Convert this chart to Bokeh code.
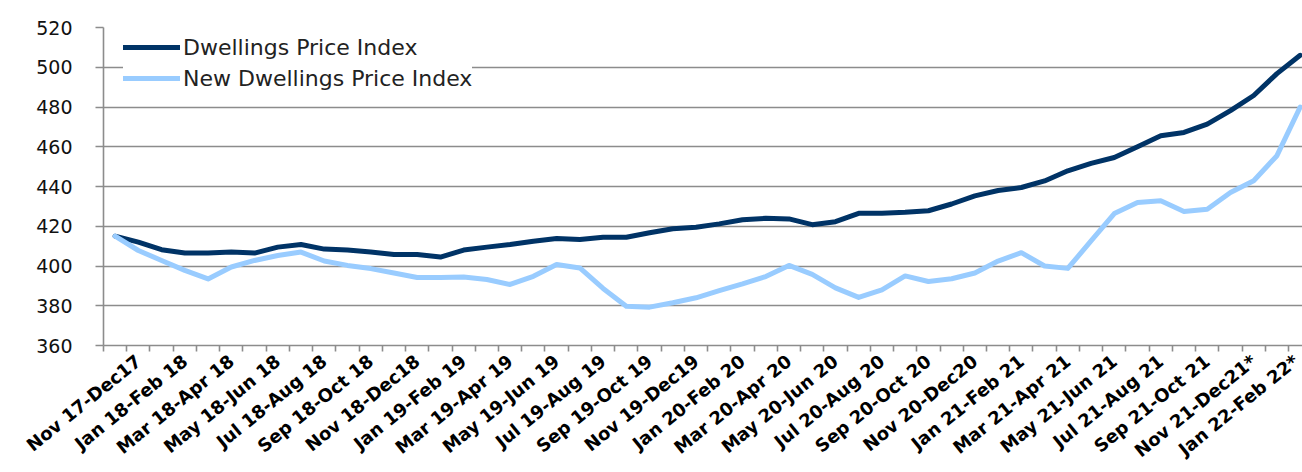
import math
from bokeh.plotting import figure
from bokeh.models import Range1d, FixedTicker, Legend, LegendItem
from bokeh.embed import file_html
from bokeh.resources import INLINE

# Rolling two-month periods, one per category (every other one is labelled)
tick_labels = [
    "Nov 17-Dec17", "Jan 18-Feb 18", "Mar 18-Apr 18", "May 18-Jun 18",
    "Jul 18-Aug 18", "Sep 18-Oct 18", "Nov 18-Dec18", "Jan 19-Feb 19",
    "Mar 19-Apr 19", "May 19-Jun 19", "Jul 19-Aug 19", "Sep 19-Oct 19",
    "Nov 19-Dec19", "Jan 20-Feb 20", "Mar 20-Apr 20", "May 20-Jun 20",
    "Jul 20-Aug 20", "Sep 20-Oct 20", "Nov 20-Dec20", "Jan 21-Feb 21",
    "Mar 21-Apr 21", "May 21-Jun 21", "Jul 21-Aug 21", "Sep 21-Oct 21",
    "Nov 21-Dec21*", "Jan 22-Feb 22*",
]

dwellings = [
    415.0, 412.0, 408.2, 406.5, 406.5, 407.0, 406.5, 409.5, 410.8, 408.5,
    408.0, 407.0, 405.8, 405.8, 404.5, 408.0, 409.5, 410.8, 412.5, 413.8,
    413.3, 414.5, 414.5, 416.7, 418.7, 419.5, 421.2, 423.3, 424.0, 423.7,
    420.8, 422.3, 426.5, 426.5, 427.0, 427.8, 431.2, 435.3, 438.0, 439.5,
    442.8, 447.9, 451.6, 454.6, 460.0, 465.5, 467.2, 471.4, 478.2, 485.8,
    496.8, 506.0,
]

new_dwellings = [
    415.0, 407.8, 402.8, 397.8, 393.5, 399.5, 402.8, 405.3, 407.0, 402.5,
    400.3, 398.7, 396.5, 394.2, 394.2, 394.5, 393.2, 390.7, 394.8, 400.8,
    399.0, 388.7, 379.7, 379.3, 381.5, 384.0, 387.6, 391.0, 394.7, 400.3,
    395.8, 389.0, 384.2, 388.0, 395.0, 392.2, 393.6, 396.5, 402.5, 406.7,
    400.0, 398.8, 412.6, 426.4, 432.0, 432.8, 427.4, 428.6, 437.0, 442.9,
    455.5, 480.0,
]

y_ticks = [360, 380, 400, 420, 440, 460, 480, 500, 520]

x = list(range(len(dwellings)))
label_pos = list(range(1, len(dwellings), 2))
boundaries = [i - 0.5 for i in range(len(dwellings) + 1)]

GRID = "#8c8c8c"
DARK = "#003366"
LIGHT = "#99ccff"

p = figure(width=1302, height=472, output_backend="svg", toolbar_location=None,
           x_range=Range1d(-0.5, 51.1), y_range=Range1d(360, 520),
           min_border_left=103, min_border_right=0, min_border_top=27,
           min_border_bottom=127)
p.outline_line_color = None
p.background_fill_color = "white"

l1 = p.line(x, dwellings, line_color=DARK, line_width=5, line_join="round", line_cap="round")
l2 = p.line(x, new_dwellings, line_color=LIGHT, line_width=5, line_join="round", line_cap="round")

# y axis
p.yaxis.ticker = FixedTicker(ticks=y_ticks)
p.yaxis.axis_line_color = GRID
p.yaxis.axis_line_width = 1.6
p.yaxis.major_tick_line_color = GRID
p.yaxis.major_tick_line_width = 1.6
p.yaxis.major_tick_out = 8
p.yaxis.major_tick_in = 0
p.yaxis.minor_tick_line_color = None
p.yaxis.major_label_standoff = 23
p.yaxis.major_label_text_font = "DejaVu Sans"
p.yaxis.major_label_text_font_size = "19px"
p.yaxis.major_label_text_color = "#111111"

p.ygrid.ticker = FixedTicker(ticks=y_ticks)
p.ygrid.grid_line_color = GRID
p.ygrid.grid_line_width = 1.6
p.xgrid.visible = False

# x axis
p.xaxis.ticker = FixedTicker(ticks=label_pos, minor_ticks=boundaries)
p.xaxis.major_label_overrides = {k: lab for k, lab in zip(label_pos, tick_labels)}
p.xaxis.axis_line_color = GRID
p.xaxis.axis_line_width = 1.6
p.xaxis.major_tick_line_color = None
p.xaxis.major_tick_out = 0
p.xaxis.major_tick_in = 0
p.xaxis.minor_tick_line_color = GRID
p.xaxis.minor_tick_line_width = 1.6
p.xaxis.minor_tick_out = 6
p.xaxis.minor_tick_in = 0
p.xaxis.major_label_orientation = math.radians(39)
p.xaxis.major_label_standoff = 7
p.xaxis.major_label_text_font = "DejaVu Sans"
p.xaxis.major_label_text_font_style = "bold"
p.xaxis.major_label_text_font_size = "18px"
p.xaxis.major_label_text_color = "#000000"

legend = Legend(items=[
    LegendItem(label="Dwellings Price Index", renderers=[l1]),
    LegendItem(label="New Dwellings Price Index", renderers=[l2]),
], location=(20, 253))
legend.padding = 2
legend.margin = 0
legend.spacing = 3
legend.glyph_width = 57
legend.glyph_height = 28
legend.label_height = 28
legend.label_standoff = 3
legend.label_text_font = "DejaVu Sans"
legend.label_text_font_size = "22px"
legend.label_text_color = "#222222"
legend.border_line_color = None
legend.background_fill_color = "white"
legend.background_fill_alpha = 1.0
p.add_layout(legend, "center")

open("out.html", "w").write(file_html(p, INLINE))
